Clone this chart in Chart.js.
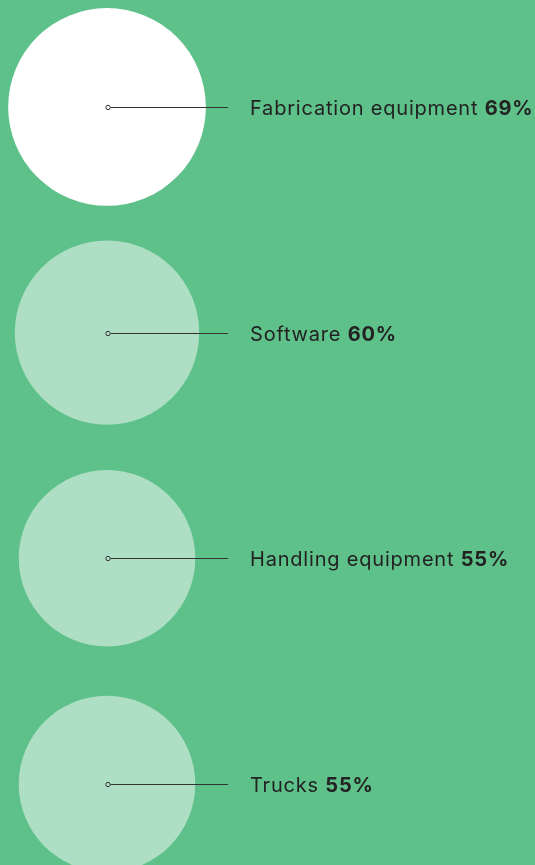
<!DOCTYPE html>
<html>
<head>
<meta charset="utf-8">
<script src="https://cdn.jsdelivr.net/npm/chart.js@4"></script>
<style>
  html, body { margin: 0; padding: 0; background: #5fc18a; }
  #wrap { width: 535px; height: 865px; position: relative; }
</style>
</head>
<body>
<div id="wrap"><canvas id="bubbles"></canvas></div>
<script>
const categories = ['Fabrication equipment', 'Software', 'Handling equipment', 'Trucks'];
const shares = [69, 60, 55, 55];

// bubble area follows the share, so radius goes with sqrt
const radiusPerRootPct = 11.9;

const leaderLabels = {
    id: 'leaderLabels',
    afterDatasetsDraw(chart) {
        const ctx = chart.ctx;
        const meta = chart.getDatasetMeta(0);
        ctx.save();
        meta.data.forEach((pt, i) => {
            const cx = Math.round(pt.x) + 1;
            const cy = Math.round(pt.y) + 0.5;
            ctx.strokeStyle = '#333';
            ctx.lineWidth = 1;
            ctx.beginPath();
            ctx.moveTo(cx + 2.5, cy);
            ctx.lineTo(228, cy);
            ctx.stroke();
            ctx.beginPath();
            ctx.arc(cx, cy, 2.2, 0, Math.PI * 2);
            ctx.fillStyle = i === 0 ? '#ffffff' : '#aedfc5';
            ctx.fill();
            ctx.stroke();

            const name = categories[i] + ' ';
            const pct = shares[i] + '%';
            ctx.textBaseline = 'middle';
            ctx.fillStyle = '#222';
            ctx.letterSpacing = '0.8px';
            ctx.font = '20px Inter, "Liberation Sans", sans-serif';
            ctx.fillText(name, 250, cy + 1);
            const w = ctx.measureText(name).width;
            ctx.font = 'bold 20px Inter, "Liberation Sans", sans-serif';
            ctx.fillText(pct, 250 + w, cy + 1);
        });
        ctx.restore();
    }
};

new Chart('bubbles', {
    type: 'bubble',
    data: {
        datasets: [{
            data: shares.map((v, i) => ({
                x: 0,
                y: i,
                r: radiusPerRootPct * Math.sqrt(v),
            })),
            backgroundColor: ctx => ctx.dataIndex === 0 ? '#ffffff' : '#aedfc5',
            borderWidth: 0,
            hoverBorderWidth: 0,
            hoverRadius: 0,
            clip: false,
        }]
    },
    options: {
        responsive: true,
        maintainAspectRatio: false,
        animation: false,
        layout: { padding: 0, autoPadding: false },
        plugins: {
            legend: { display: false },
            tooltip: { enabled: false },
        },
        scales: {
            x: { display: false, min: -1, max: 4 },
            y: { display: false, reverse: true, min: -0.474, max: 3.359 },
        }
    },
    plugins: [leaderLabels]
});
</script>
</body>
</html>
